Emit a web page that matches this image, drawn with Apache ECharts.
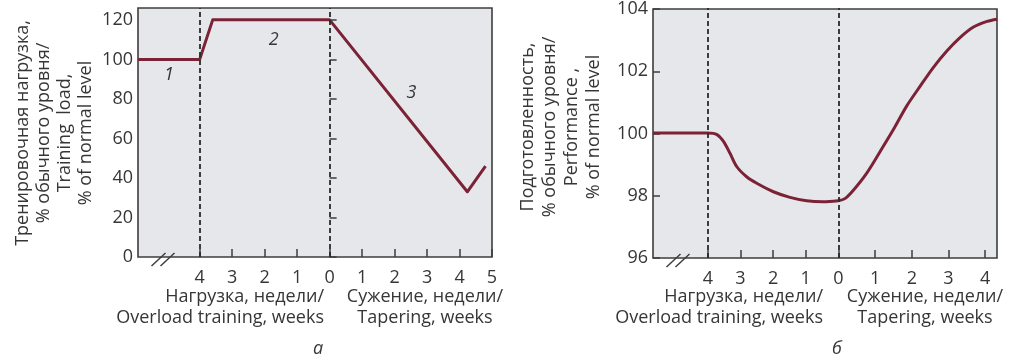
<!DOCTYPE html>
<html>
<head>
<meta charset="utf-8">
<script src="https://cdn.jsdelivr.net/npm/echarts@6/dist/echarts.min.js"></script>
<style>
  html, body { margin: 0; padding: 0; background: #fff; }
  #chart { width: 1018px; height: 361px; }
</style>
</head>
<body>
<div id="chart"></div>
<script>
// Panel a: training load, % of normal level
const loadWeeks  = [-5.9, -4.0, -3.6, 0, 4.24, 4.8];
const loadValues = [100, 100, 120, 120, 33, 46];
const loadTicks  = [0, 20, 40, 60, 80, 100, 120];
const weekTicksA = [-4, -3, -2, -1, 0, 1, 2, 3, 4, 5];

// Panel б: performance, % of normal level (overload part, weeks before taper)
const perfOverloadWeeks  = [-5.68, -4.0, -3.72, -3.52, -3.32, -3.11, -2.81, -2.5, -1.99, -1.48, -0.97, -0.46, 0];
const perfOverloadValues = [100, 100, 99.95, 99.73, 99.35, 98.92, 98.6, 98.39, 98.12, 97.94, 97.83, 97.8, 97.83];
// taper part, weeks of tapering
const perfTaperWeeks  = [0, 0.18, 0.41, 0.77, 1.14, 1.5, 1.86, 2.23, 2.59, 2.96, 3.32, 3.68, 4.05, 4.32];
const perfTaperValues = [97.83, 97.9, 98.17, 98.71, 99.41, 100.11, 100.86, 101.5, 102.1, 102.63, 103.06, 103.39, 103.57, 103.64];
const overloadTicksB = [-4, -3, -2, -1, 0];
const taperTicksB    = [1, 2, 3, 4];

// Phase numbers on panel a: [week, value, text]
const phaseLabels = [[-4.95, 92, '1'], [-1.72, 110, '2'], [2.52, 83, '3']];

const FONT = '"Open Sans", "Noto Sans", sans-serif';
const INK = '#363636';
const FRAME = '#3e3e3e';
const PLOT_BG = '#e6e7ea';
const LINE = '#7b2236';
const FS = 18;

const chart = echarts.init(document.getElementById('chart'), null, { renderer: 'canvas' });

function frameGrid(left, width, height, show) {
  return {
    left: left, top: 8, width: width, height: height,
    show: show, backgroundColor: PLOT_BG, borderColor: FRAME, borderWidth: show ? 1.6 : 0,
    containLabel: false
  };
}

function weekAxis(grid, min, max, ticks) {
  return {
    gridIndex: grid, type: 'value', min: min, max: max,
    axisLine: { show: false },
    splitLine: { show: false },
    axisTick: { show: true, inside: true, length: 8, customValues: ticks, lineStyle: { color: FRAME, width: 1.5 } },
    axisLabel: {
      customValues: ticks, formatter: v => String(Math.abs(v)),
      fontFamily: FONT, fontSize: FS, color: INK, margin: 12
    }
  };
}

function hiddenAxis(grid, min, max) {
  return { gridIndex: grid, type: 'value', min: min, max: max, show: false, splitLine: { show: false } };
}

function dashes(weeks) {
  return {
    silent: true, symbol: 'none', label: { show: false },
    lineStyle: { color: '#2a2a2a', type: [5, 3], width: 1.8 },
    data: weeks.map(w => ({ xAxis: w }))
  };
}

const pairs = (xs, ys) => xs.map((x, i) => [x, ys[i]]);

chart.setOption({
  animation: false,
  backgroundColor: '#fff',
  grid: [
    frameGrid(138, 354, 249, true),
    frameGrid(653, 344, 250, true),
    frameGrid(653, 185.3, 250, false),
    frameGrid(838.3, 158.7, 250, false)
  ],
  xAxis: [
    weekAxis(0, -5.9, 5, weekTicksA),
    hiddenAxis(1, 0, 1),
    weekAxis(2, -5.68, 0, overloadTicksB),
    weekAxis(3, 0, 4.32, taperTicksB)
  ],
  yAxis: [
    {
      gridIndex: 0, type: 'value', min: 0, max: 126,
      axisLine: { show: false }, splitLine: { show: false },
      axisTick: { inside: true, length: 7, customValues: loadTicks, lineStyle: { color: FRAME, width: 1.5 } },
      axisLabel: { customValues: loadTicks, fontFamily: FONT, fontSize: FS, color: INK, margin: 5 }
    },
    {
      gridIndex: 1, type: 'value', min: 96, max: 104, interval: 2,
      axisLine: { show: false }, splitLine: { show: false },
      axisTick: { inside: true, length: 7, lineStyle: { color: FRAME, width: 1.5 } },
      axisLabel: { fontFamily: FONT, fontSize: FS, color: INK, margin: 5 }
    },
    hiddenAxis(2, 96, 104),
    hiddenAxis(3, 96, 104)
  ],
  series: [
    {
      type: 'line', xAxisIndex: 0, yAxisIndex: 0, symbol: 'none',
      data: pairs(loadWeeks, loadValues),
      lineStyle: { color: LINE, width: 3, join: 'round' },
      markLine: dashes([-4, 0]), z: 3
    },
    {
      type: 'line', xAxisIndex: 2, yAxisIndex: 2, symbol: 'none',
      smooth: 0.3,
      data: pairs(perfOverloadWeeks, perfOverloadValues),
      lineStyle: { color: LINE, width: 3 },
      markLine: dashes([-4, 0]), z: 3
    },
    {
      type: 'line', xAxisIndex: 3, yAxisIndex: 3, symbol: 'none',
      smooth: 0.3,
      data: pairs(perfTaperWeeks, perfTaperValues),
      lineStyle: { color: LINE, width: 3 }, z: 3
    }
  ]
});

// Decorations: axis titles, week captions, panel letters, phase numbers, axis breaks
const txt = (x, y, text, extra) => ({
  type: 'text', x: x, y: y, silent: true,
  style: Object.assign({
    text: text, fill: INK, fontFamily: FONT, fontSize: FS,
    textAlign: 'center', textVerticalAlign: 'middle', align: 'center', verticalAlign: 'middle'
  }, extra || {})
});

const graphics = [];
graphics.push(Object.assign(txt(54, 133,
  'Тренировочная нагрузка,\n% обычного уровня/\nTraining  load,\n% of normal level', { lineHeight: 21 }),
  { rotation: Math.PI / 2 }));
graphics.push(Object.assign(txt(561, 127,
  'Подготовленность,\n% обычного уровня/\nPerformance ,\n% of normal level', { lineHeight: 22 }),
  { rotation: Math.PI / 2 }));

function captions(overRight, taperCenter, letterX, letter) {
  graphics.push(txt(overRight, 297, 'Нагрузка, недели/', { textAlign: 'right', align: 'right' }));
  graphics.push(txt(overRight, 318, 'Overload training, weeks', { textAlign: 'right', align: 'right' }));
  graphics.push(txt(taperCenter, 297, 'Сужение, недели/'));
  graphics.push(txt(taperCenter, 318, 'Tapering, weeks'));
  graphics.push(txt(letterX, 349, letter, { fontStyle: 'italic' }));
}
captions(324, 425, 318, 'а');
captions(823, 925, 837, 'б');

phaseLabels.forEach(([w, v, t]) => {
  const p = chart.convertToPixel({ xAxisIndex: 0, yAxisIndex: 0 }, [w, v]);
  graphics.push(txt(p[0], p[1], t, { fontStyle: 'italic' }));
});

function axisBreak(corner) {
  const cx = corner[0] + 25, by = corner[1];
  [-9, 0].forEach(dx => {
    graphics.push({
      type: 'line', silent: true,
      shape: { x1: cx + dx - 2.5, y1: by + 9, x2: cx + dx + 11.5, y2: by - 4 },
      style: { stroke: FRAME, lineWidth: 1.5 }
    });
  });
}
axisBreak(chart.convertToPixel({ xAxisIndex: 0, yAxisIndex: 0 }, [-5.9, 0]));
axisBreak(chart.convertToPixel({ xAxisIndex: 2, yAxisIndex: 2 }, [-5.68, 96]));

chart.setOption({ graphic: { elements: graphics } });
</script>
</body>
</html>
